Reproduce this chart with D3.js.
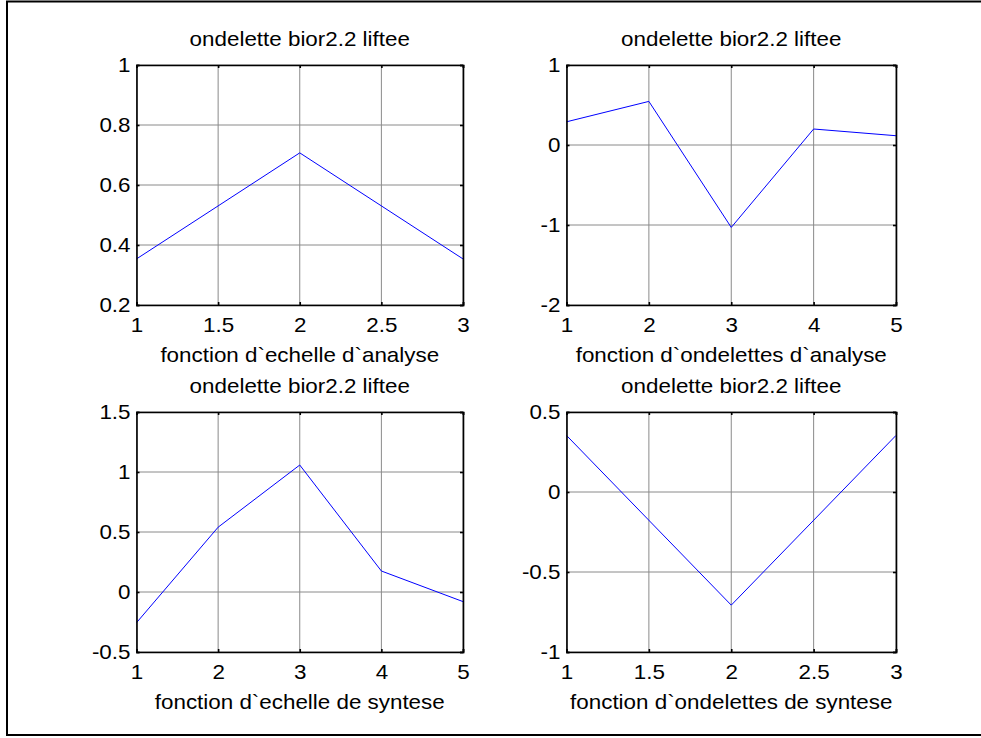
<!DOCTYPE html>
<html><head><meta charset="utf-8">
<script src="https://cdn.jsdelivr.net/npm/d3@7"></script>
<style>body{margin:0;background:#fff}svg{display:block}text{font-family:"Liberation Sans",Arial,sans-serif}</style>
</head><body>
<svg id="c" width="981" height="738"></svg>
<script>
const titles = ["ondelette bior2.2 liftee","ondelette bior2.2 liftee","ondelette bior2.2 liftee","ondelette bior2.2 liftee"];
const xlabels = ["fonction d`echelle d`analyse","fonction d`ondelettes d`analyse","fonction d`echelle de syntese","fonction d`ondelettes de syntese"];
const x1 = [1,2,3];
const y1 = [0.3536,0.7071,0.3536];
const x2 = [1,2,3,4,5];
const y2 = [0.29,0.545,-1.03,0.2,0.116];
const x3 = [1,2,3,4,5];
const y3 = [-0.256,0.54,1.058,0.175,-0.08];
const x4 = [1,2,3];
const y4 = [0.3536,-0.7071,0.3536];
const xTicks = [[1,1.5,2,2.5,3],[1,2,3,4,5],[1,2,3,4,5],[1,1.5,2,2.5,3]];
const yTicks = [[0.2,0.4,0.6,0.8,1],[-2,-1,0,1],[-0.5,0,0.5,1,1.5],[-1,-0.5,0,0.5]];
const yDomains = [[0.2,1],[-2,1],[-0.5,1.5],[-1,0.5]];
const xs = [x1,x2,x3,x4], ys=[y1,y2,y3,y4];

const FS = 20, SX = 1.12;
const svg = d3.select("#c");
svg.append("rect").attr("x",7).attr("y",1.5).attr("width",985).attr("height",733.5)
  .attr("fill","none").attr("stroke","#000").attr("stroke-width",2);

const boxes = [
  {l:136.5,r:463,t:65,b:305},
  {l:566.5,r:896,t:65,b:305},
  {l:136.5,r:463,t:412,b:652},
  {l:566.5,r:896,t:412,b:652}
];
const fmt = v => String(v);
function label(g, cx, y, s){
  g.append("g").attr("transform",`translate(${cx},${y})`)
    .append("text").attr("text-anchor","middle").attr("font-size",FS)
    .attr("transform",`scale(${SX},1)`).attr("fill","#000").text(s);
}
boxes.forEach((bx,i)=>{
  const xd = d3.extent(xs[i]);
  const x = d3.scaleLinear().domain(xd).range([bx.l,bx.r]);
  const y = d3.scaleLinear().domain(yDomains[i]).range([bx.b,bx.t]);
  const g = svg.append("g");
  g.selectAll(".gx").data(xTicks[i]).enter().append("line")
    .attr("x1",d=>x(d)).attr("x2",d=>x(d)).attr("y1",bx.t).attr("y2",bx.b)
    .attr("stroke","#8a8a8a").attr("stroke-width",1);
  g.selectAll(".gy").data(yTicks[i]).enter().append("line")
    .attr("y1",d=>y(d)).attr("y2",d=>y(d)).attr("x1",bx.l).attr("x2",bx.r)
    .attr("stroke","#8a8a8a").attr("stroke-width",1);
  g.append("path").datum(xs[i].map((d,j)=>[d,ys[i][j]]))
    .attr("d",d3.line().x(d=>x(d[0])).y(d=>y(d[1])))
    .attr("fill","none").attr("stroke","#0000ff").attr("stroke-width",1);
  const axB = d3.axisBottom(x).tickValues(xTicks[i]).tickSize(-3).tickPadding(13).tickFormat(fmt);
  const axT = d3.axisTop(x).tickValues(xTicks[i]).tickSize(-3).tickFormat("");
  const axL = d3.axisLeft(y).tickValues(yTicks[i]).tickSize(-3).tickPadding(6).tickFormat(fmt);
  const axR = d3.axisRight(y).tickValues(yTicks[i]).tickSize(-3).tickFormat("");
  [[axB,`translate(0,${bx.b})`],[axT,`translate(0,${bx.t})`],[axL,`translate(${bx.l},0)`],[axR,`translate(${bx.r},0)`]].forEach(([ax,tr])=>{
    const a = g.append("g").attr("transform",tr).call(ax);
    a.select(".domain").attr("stroke","#000").attr("stroke-width",1.6);
    a.selectAll(".tick line").attr("stroke","#000").attr("stroke-width",1.6);
    a.selectAll("text").attr("font-size",FS).attr("fill","#000")
      .attr("font-family","Liberation Sans, Arial, sans-serif")
      .each(function(){ const t=d3.select(this); const xx=+t.attr("x")||0; t.attr("x",xx/SX).attr("transform",`scale(${SX},1)`); });
  });
  label(g,(bx.l+bx.r)/2,bx.t-19,titles[i]);
  label(g,(bx.l+bx.r)/2,bx.b+57,xlabels[i]);
});
</script>
</body></html>
